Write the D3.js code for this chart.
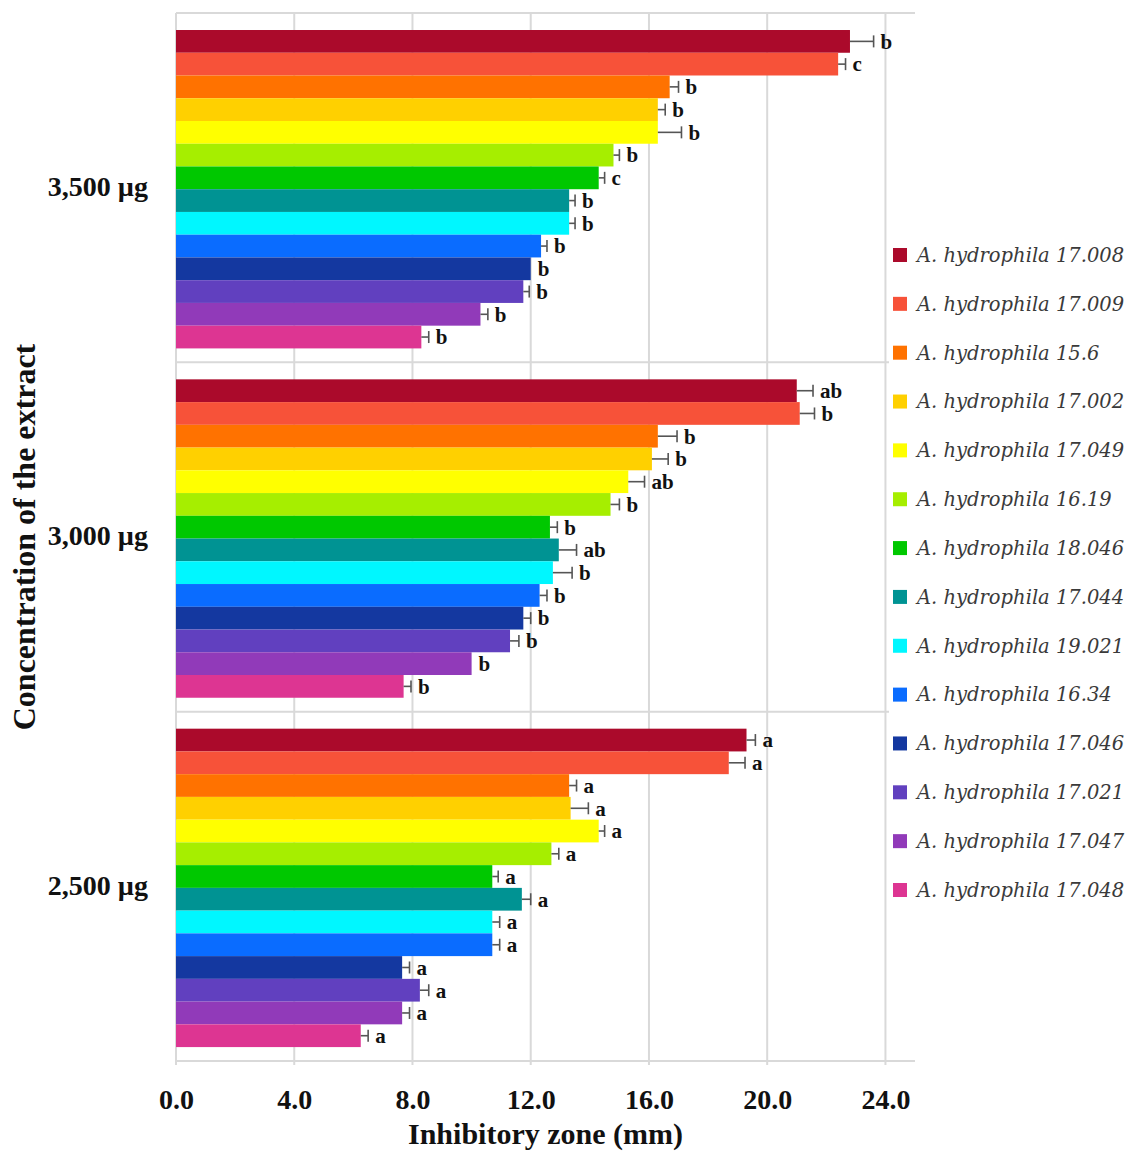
<!DOCTYPE html>
<html>
<head>
<meta charset="utf-8">
<script src="https://cdn.jsdelivr.net/npm/d3@7"></script>
<style>
  body { margin: 0; background: #fff; }
  svg { display: block; }
</style>
</head>
<body>
<div id="viz"></div>
<script>
// strains, top to bottom inside each group
var strains = ["A. hydrophila 17.008", "A. hydrophila 17.009", "A. hydrophila 15.6",
    "A. hydrophila 17.002", "A. hydrophila 17.049", "A. hydrophila 16.19",
    "A. hydrophila 18.046", "A. hydrophila 17.044", "A. hydrophila 19.021",
    "A. hydrophila 16.34", "A. hydrophila 17.046", "A. hydrophila 17.021",
    "A. hydrophila 17.047", "A. hydrophila 17.048"];

var colors = ["#ab0a2b", "#f75239", "#ff7200", "#ffd000", "#ffff00", "#a6ee00", "#00c800",
    "#009393", "#00f7ff", "#0a6cff", "#1438a0", "#6140bf", "#913ab9", "#dd3592"];

var concentrations = ["3,500 µg", "3,000 µg", "2,500 µg"];

var mean3500 = [22.8, 22.4, 16.7, 16.3, 16.3, 14.8, 14.3, 13.3, 13.3, 12.35, 12.0, 11.75, 10.3, 8.3];
var err3500  = [0.8, 0.25, 0.3, 0.25, 0.8, 0.2, 0.2, 0.2, 0.2, 0.2, 0.0, 0.2, 0.25, 0.25];
var sig3500  = ["b", "c", "b", "b", "b", "b", "c", "b", "b", "b", "b", "b", "b", "b"];

var mean3000 = [21.0, 21.1, 16.3, 16.1, 15.3, 14.7, 12.65, 12.95, 12.75, 12.3, 11.75, 11.3, 10.0, 7.7];
var err3000  = [0.55, 0.5, 0.65, 0.55, 0.55, 0.3, 0.25, 0.6, 0.65, 0.25, 0.25, 0.3, 0.0, 0.25];
var sig3000  = ["ab", "b", "b", "b", "ab", "b", "b", "ab", "b", "b", "b", "b", "b", "b"];

var mean2500 = [19.3, 18.7, 13.3, 13.35, 14.3, 12.7, 10.7, 11.7, 10.7, 10.7, 7.65, 8.25, 7.65, 6.25];
var err2500  = [0.3, 0.55, 0.25, 0.6, 0.2, 0.25, 0.2, 0.3, 0.25, 0.25, 0.25, 0.3, 0.25, 0.25];
var sig2500  = ["a", "a", "a", "a", "a", "a", "a", "a", "a", "a", "a", "a", "a", "a"];

var xTicks = [0, 4, 8, 12, 16, 20, 24];

var groups = [
    {conc: concentrations[0], mean: mean3500, err: err3500, sig: sig3500},
    {conc: concentrations[1], mean: mean3000, err: err3000, sig: sig3000},
    {conc: concentrations[2], mean: mean2500, err: err2500, sig: sig2500}
];

var rows = [];
groups.forEach(function(g) {
    strains.forEach(function(s, i) {
        rows.push({conc: g.conc, strain: s, color: colors[i], v: g.mean[i], e: g.err[i], sig: g.sig[i]});
    });
});

var plotLeft = 176, plotRight = 915, plotTop = 13, plotBottom = 1061;

var svg = d3.select("#viz")
    .append("svg")
    .attr("width", 1129)
    .attr("height", 1151);

var x = d3.scaleLinear().domain([0, 25]).range([plotLeft, plotRight]);

var y0 = d3.scaleBand().domain(concentrations).range([plotTop, plotBottom]);
var y1 = d3.scaleBand().domain(strains).range([0, y0.bandwidth()])
    .paddingInner(0).paddingOuter(0.68).align(0.55);

function midY(d) { return y0(d.conc) + y1(d.strain) + y1.bandwidth() / 2; }

var gridColor = "#d9d9d9";

// vertical gridlines
svg.append("g").selectAll("line")
    .data(xTicks)
    .enter().append("line")
    .attr("x1", function(d) { return x(d); })
    .attr("x2", function(d) { return x(d); })
    .attr("y1", plotTop)
    .attr("y2", plotBottom + 4)
    .style("stroke", gridColor)
    .style("stroke-width", 2);

// group dividers and frame
var hLines = [plotTop, plotBottom].concat(concentrations.slice(1).map(function(c) { return y0(c); }));
svg.append("g").selectAll("line")
    .data(hLines)
    .enter().append("line")
    .attr("x1", plotLeft)
    .attr("x2", plotRight)
    .attr("y1", function(d) { return d; })
    .attr("y2", function(d) { return d; })
    .style("stroke", gridColor)
    .style("stroke-width", 2);

// bars
svg.append("g").selectAll("rect")
    .data(rows)
    .enter().append("rect")
    .attr("x", x(0))
    .attr("y", function(d) { return y0(d.conc) + y1(d.strain); })
    .attr("width", function(d) { return x(d.v) - x(0); })
    .attr("height", y1.bandwidth())
    .style("fill", function(d) { return d.color; });

// error bars
var eb = svg.append("g").selectAll("g")
    .data(rows.filter(function(d) { return d.e > 0; }))
    .enter().append("g")
    .style("stroke", "#555")
    .style("stroke-width", 1.6);

eb.append("line")
    .attr("x1", function(d) { return x(d.v); })
    .attr("x2", function(d) { return x(d.v + d.e); })
    .attr("y1", midY)
    .attr("y2", midY);

eb.append("line")
    .attr("x1", function(d) { return x(d.v + d.e); })
    .attr("x2", function(d) { return x(d.v + d.e); })
    .attr("y1", function(d) { return midY(d) - 6; })
    .attr("y2", function(d) { return midY(d) + 6; });

// significance letters
svg.append("g").selectAll("text")
    .data(rows)
    .enter().append("text")
    .attr("x", function(d) { return x(d.v + d.e) + 7; })
    .attr("y", midY)
    .attr("dy", "0.35em")
    .style("font-family", "'Liberation Serif', serif")
    .style("font-weight", "bold")
    .style("font-size", "21px")
    .style("fill", "#111")
    .text(function(d) { return d.sig; });

// x axis labels
var xAxis = d3.axisBottom(x)
    .tickValues(xTicks)
    .tickFormat(d3.format(".1f"))
    .tickSize(0)
    .tickPadding(28);

var xg = svg.append("g")
    .attr("transform", "translate(0," + plotBottom + ")")
    .call(xAxis);
xg.select(".domain").remove();
xg.selectAll("text")
    .style("font-family", "'Liberation Serif', serif")
    .style("font-weight", "bold")
    .style("font-size", "28px")
    .style("fill", "#111");

svg.append("text")
    .attr("x", (plotLeft + plotRight) / 2)
    .attr("y", 1144)
    .attr("text-anchor", "middle")
    .style("font-family", "'Liberation Serif', serif")
    .style("font-weight", "bold")
    .style("font-size", "30px")
    .style("fill", "#111")
    .text("Inhibitory zone (mm)");

// group labels
svg.append("g").selectAll("text")
    .data(concentrations)
    .enter().append("text")
    .attr("x", 148)
    .attr("y", function(d) { return y0(d) + y0.bandwidth() / 2; })
    .attr("dy", "0.3em")
    .attr("text-anchor", "end")
    .style("font-family", "'Liberation Serif', serif")
    .style("font-weight", "bold")
    .style("font-size", "28px")
    .style("fill", "#111")
    .text(function(d) { return d; });

svg.append("text")
    .attr("transform", "translate(35,537) rotate(-90)")
    .attr("text-anchor", "middle")
    .style("font-family", "'Liberation Serif', serif")
    .style("font-weight", "bold")
    .style("font-size", "32px")
    .style("fill", "#111")
    .text("Concentration of the extract");

// legend
var legend = svg.append("g");
legend.append("rect")
    .attr("x", 889)
    .attr("y", 232)
    .attr("width", 240)
    .attr("height", 680)
    .style("fill", "#fff");

var ly = d3.scalePoint().domain(strains).range([255, 890]);

var item = legend.selectAll("g")
    .data(strains)
    .enter().append("g")
    .attr("transform", function(d) { return "translate(893," + ly(d) + ")"; });

item.append("rect")
    .attr("x", 0)
    .attr("y", -7)
    .attr("width", 14)
    .attr("height", 14)
    .style("fill", function(d, i) { return colors[i]; });

item.append("text")
    .attr("x", 24)
    .attr("dy", "0.35em")
    .style("font-family", "'DejaVu Serif', serif")
    .style("font-style", "italic")
    .style("font-size", "19.5px")
    .style("fill", "#3a3a3a")
    .text(function(d) { return d; });
</script>
</body>
</html>
